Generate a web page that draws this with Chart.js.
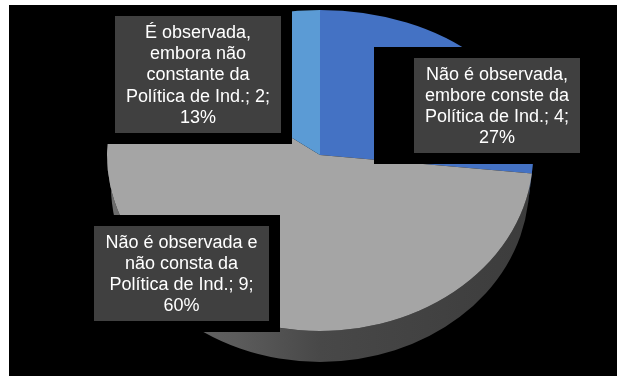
<!DOCTYPE html>
<html>
<head>
<meta charset="utf-8">
<script src="https://cdn.jsdelivr.net/npm/chart.js@4"></script>
<style>
  html, body { margin: 0; padding: 0; background: #fff; }
  #wrap { width: 620px; height: 376px; }
</style>
</head>
<body>
<div id="wrap"><canvas id="pieChart"></canvas></div>
<script>
const categories = [
    'Não é observada, embore conste da Política de Ind.',
    'Não é observada e não consta da Política de Ind.',
    'É observada, embora não constante da Política de Ind.'
];
const counts = [4, 9, 2];

const total = counts.reduce((a, b) => a + b, 0);
const percents = counts.map(v => Math.round(v / total * 100));

// tilted pie: apex, half-width, back/front half heights and wall depth
// (front half taller than back half for a bit of perspective,
//  bottom rim a little narrower so the wall fades out at the sides)
const tilt = { cx: 320, cy: 155, rx: 213, rxBottom: 209, ryBack: 145, ryFront: 176, depth: 31 };

// label boxes, same order as the data
const labelBoxes = [
    { x: 414, y: 58, w: 166, h: 95, extraLeft: 29 },
    { x: 94, y: 226, w: 175, h: 95, extraLeft: 0 },
    { x: 115, y: 16, w: 166, h: 117, extraLeft: 0 }
];

function wrapText(ctx, text, maxW) {
    const words = text.split(' ');
    const lines = [];
    let line = '';
    words.forEach(w => {
        const test = line ? line + ' ' + w : w;
        if (line && ctx.measureText(test).width > maxW) {
            lines.push(line);
            line = w;
        } else {
            line = test;
        }
    });
    if (line) lines.push(line);
    return lines;
}

function squash(chart, ry) {
    const ctx = chart.ctx;
    const arc = chart.getDatasetMeta(0).data[0];
    const r = arc.outerRadius;
    ctx.translate(tilt.cx, tilt.cy);
    ctx.scale(tilt.rx / r, ry / r);
    ctx.translate(-arc.x, -arc.y);
}

const tiltPlugin = {
    id: 'tilt3d',
    beforeDraw(chart) {
        const ctx = chart.ctx;
        ctx.save();
        ctx.fillStyle = '#fff';
        ctx.fillRect(0, 0, chart.width, chart.height);
        ctx.fillStyle = '#000';
        ctx.fillRect(9, 5, 608, 371);
        ctx.restore();
    },
    beforeDatasetsDraw(chart) {
        const ctx = chart.ctx;
        const arcs = chart.getDatasetMeta(0).data;

        // side wall, only the front half shows
        ctx.save();
        arcs.forEach((arc, i) => {
            const a1 = Math.max(arc.startAngle, 0);
            const a2 = Math.min(arc.endAngle, Math.PI);
            if (a2 <= a1) return;
            ctx.beginPath();
            ctx.ellipse(tilt.cx, tilt.cy, tilt.rx, tilt.ryFront, 0, a1, a2);
            ctx.ellipse(tilt.cx, tilt.cy + tilt.depth, tilt.rxBottom, tilt.ryFront, 0, a2, a1, true);
            ctx.closePath();
            if (i === 1) {
                const g = ctx.createLinearGradient(tilt.cx - tilt.rx, 0, tilt.cx + tilt.rx, 0);
                g.addColorStop(0, '#6e6e6e');
                g.addColorStop(0.3, '#5c5c5c');
                g.addColorStop(0.5, '#484848');
                g.addColorStop(1, '#3c3c3c');
                ctx.fillStyle = g;
            } else {
                ctx.fillStyle = i === 0 ? '#2f528f' : '#41719c';
            }
            ctx.fill();
        });
        ctx.restore();

        // front half of the top face (drawn by Chart.js itself)
        ctx.save();
        ctx.beginPath();
        ctx.rect(0, tilt.cy, chart.width, chart.height - tilt.cy);
        ctx.clip();
        squash(chart, tilt.ryFront);
    },
    afterDatasetsDraw(chart) {
        const ctx = chart.ctx;
        ctx.restore();

        // back half of the top face
        ctx.save();
        ctx.beginPath();
        ctx.rect(0, 0, chart.width, tilt.cy);
        ctx.clip();
        squash(chart, tilt.ryBack);
        chart.getDatasetMeta(0).data.forEach(arc => arc.draw(ctx));
        ctx.restore();
    },
    afterDraw(chart) {
        const ctx = chart.ctx;
        ctx.save();
        ctx.font = '18px "Liberation Sans", Arial, sans-serif';
        ctx.textAlign = 'center';
        ctx.textBaseline = 'middle';
        labelBoxes.forEach((b, i) => {
            const pad = 11;
            ctx.fillStyle = '#000';
            ctx.fillRect(b.x - pad - b.extraLeft, b.y - pad, b.w + pad * 2 + b.extraLeft, b.h + pad * 2);
            ctx.fillStyle = '#404040';
            ctx.fillRect(b.x, b.y, b.w, b.h);

            const text = categories[i] + '; ' + counts[i] + '; ' + percents[i] + '%';
            const lines = wrapText(ctx, text, b.w - 8);
            const lh = 21.3;
            const midY = b.y + b.h / 2;
            ctx.fillStyle = '#fff';
            lines.forEach((ln, k) => {
                ctx.fillText(ln, b.x + b.w / 2, midY + (k - (lines.length - 1) / 2) * lh + 1);
            });
        });
        ctx.restore();
    }
};

const ctx = document.getElementById('pieChart').getContext('2d');

new Chart(ctx, {
    type: 'pie',
    data: {
        labels: categories,
        datasets: [{
            data: counts,
            backgroundColor: ['#4472C4', '#A5A5A5', '#5B9BD5'],
            borderWidth: 0
        }]
    },
    options: {
        responsive: true,
        maintainAspectRatio: false,
        animation: false,
        events: [],
        layout: { padding: 0 },
        plugins: {
            legend: { display: false },
            tooltip: { enabled: false }
        }
    },
    plugins: [tiltPlugin]
});
</script>
</body>
</html>
